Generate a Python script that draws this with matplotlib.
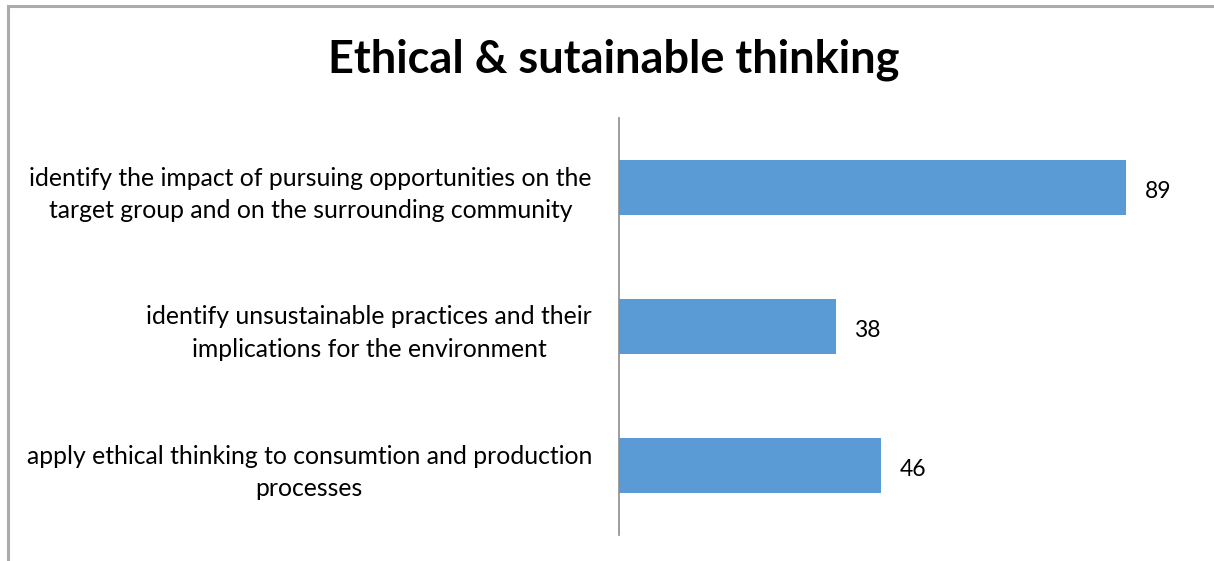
import matplotlib.pyplot as plt
from matplotlib.patches import Rectangle

# Категорії (знизу вгору) та значення
categories = [
    "apply ethical thinking to consumtion and production\nprocesses",
    "identify unsustainable practices and their\nimplications for the environment",
    "identify the impact of pursuing opportunities on the\ntarget group and on the surrounding community",
]
values = [46, 38, 89]

plt.rcParams['font.family'] = ['Lato', 'DejaVu Sans']

fig = plt.figure(figsize=(12.14, 5.61), dpi=100)

# Сіра рамка навколо діаграми
fig.patches.append(Rectangle((8 / 1214, -0.05), 1.1, 1.05 - 6.5 / 561,
                             transform=fig.transFigure, fill=False,
                             edgecolor='#ababab', linewidth=2.2))

ax = fig.add_axes([619 / 1214, 26 / 561, 570 / 1214, 417 / 561])
bars = ax.barh(range(len(values)), values, height=0.4, color='#5b9bd5')

ax.set_xlim(0, 100)
ax.set_ylim(-0.5, 2.5)
ax.set_xticks([])
ax.set_yticks(range(len(categories)))
ax.set_yticklabels(categories, fontsize=17.8, multialignment='center',
                   linespacing=1.5)
ax.tick_params(axis='y', length=0, pad=19.5)

for s in ['top', 'right', 'bottom']:
    ax.spines[s].set_visible(False)
ax.spines['left'].set_color('#8c8c8c')
ax.spines['left'].set_linewidth(1.2)

# Підписи значень
for b, v in zip(bars, values):
    ax.text(v + 3.3, b.get_y() + b.get_height() / 2 - 0.03, str(v),
            va='center', ha='left', fontsize=16.5)

fig.text(614 / 1214, 1 - 60 / 561, "Ethical & sutainable thinking",
         ha='center', va='center', fontsize=32.5, fontweight='bold')

fig.savefig('out.png', dpi=100)
